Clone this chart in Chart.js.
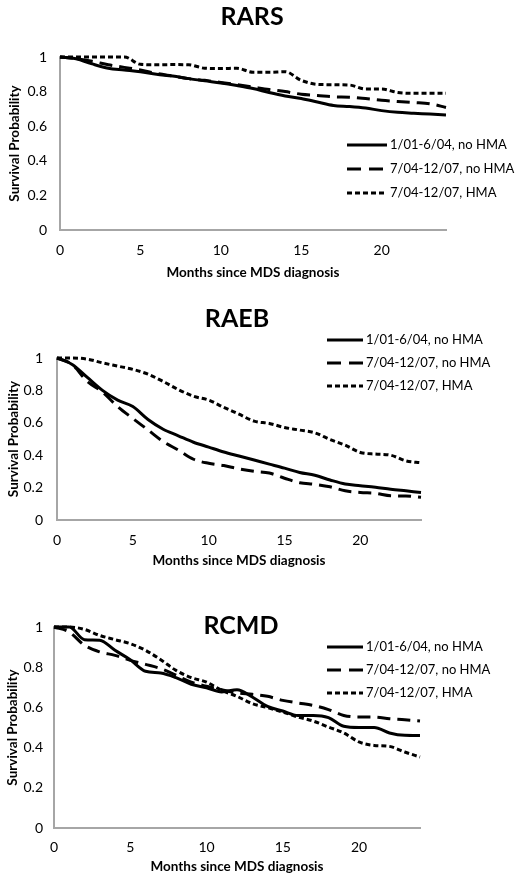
<!DOCTYPE html>
<html>
<head>
<meta charset="utf-8">
<script src="https://cdn.jsdelivr.net/npm/chart.js@4.4.0/dist/chart.umd.min.js"></script>
<style>
  html, body { margin: 0; padding: 0; background: #fff; }
  #wrap { position: relative; width: 524px; height: 882px; }
  canvas { position: absolute; left: 0; }
</style>
</head>
<body>
<div id="wrap">
  <canvas id="rarsChart" width="524" height="290" style="top:0px"></canvas>
  <canvas id="raebChart" width="524" height="290" style="top:290px"></canvas>
  <canvas id="rcmdChart" width="524" height="302" style="top:580px"></canvas>
</div>
<script>
var months = [0, 1, 2, 3, 4, 5, 6, 7, 8, 9, 10, 11, 12, 13, 14, 15, 16, 17, 18, 19, 20, 21, 22, 23, 24];
var seriesNames = ['1/01-6/04, no HMA', '7/04-12/07, no HMA', '7/04-12/07, HMA'];
var yTicks = [0, 0.2, 0.4, 0.6, 0.8, 1];
var xTicks = [0, 5, 10, 15, 20];

// RARS
var rarsEarly = [1, 0.99, 0.96, 0.935, 0.925, 0.915, 0.9, 0.89, 0.875, 0.862, 0.85, 0.835, 0.818, 0.795, 0.775, 0.76, 0.74, 0.72, 0.714, 0.705, 0.69, 0.68, 0.675, 0.67, 0.665];
var rarsLateNoHma = [1, 0.99, 0.975, 0.955, 0.94, 0.925, 0.905, 0.89, 0.875, 0.865, 0.853, 0.84, 0.826, 0.812, 0.8, 0.785, 0.778, 0.77, 0.768, 0.76, 0.75, 0.743, 0.737, 0.73, 0.708];
var rarsLateHma = [1, 1, 1, 1, 1, 0.958, 0.955, 0.956, 0.955, 0.935, 0.933, 0.935, 0.912, 0.912, 0.915, 0.865, 0.842, 0.84, 0.838, 0.815, 0.815, 0.795, 0.79, 0.79, 0.79];

// RAEB
var raebEarly = [1, 0.96, 0.88, 0.8, 0.74, 0.7, 0.62, 0.56, 0.52, 0.48, 0.45, 0.42, 0.395, 0.37, 0.345, 0.32, 0.293, 0.276, 0.247, 0.222, 0.212, 0.202, 0.19, 0.18, 0.17];
var raebLateNoHma = [1, 0.96, 0.855, 0.79, 0.7, 0.627, 0.556, 0.484, 0.432, 0.375, 0.35, 0.336, 0.315, 0.3, 0.29, 0.258, 0.23, 0.22, 0.205, 0.18, 0.17, 0.165, 0.15, 0.148, 0.14];
var raebLateHma = [1, 1, 0.993, 0.97, 0.95, 0.93, 0.9, 0.855, 0.805, 0.764, 0.74, 0.695, 0.653, 0.61, 0.596, 0.571, 0.555, 0.538, 0.497, 0.462, 0.417, 0.407, 0.4, 0.365, 0.353];

// RCMD
var rcmdEarly = [1, 1, 0.937, 0.934, 0.884, 0.837, 0.78, 0.771, 0.748, 0.715, 0.698, 0.677, 0.688, 0.652, 0.605, 0.582, 0.56, 0.56, 0.549, 0.506, 0.5, 0.5, 0.473, 0.461, 0.46];
var rcmdLateNoHma = [1, 0.975, 0.909, 0.876, 0.859, 0.834, 0.814, 0.793, 0.76, 0.726, 0.705, 0.688, 0.672, 0.665, 0.655, 0.635, 0.622, 0.61, 0.589, 0.56, 0.552, 0.552, 0.544, 0.539, 0.532];
var rcmdLateHma = [1, 1, 0.988, 0.958, 0.937, 0.917, 0.884, 0.837, 0.784, 0.748, 0.726, 0.685, 0.655, 0.619, 0.599, 0.577, 0.552, 0.532, 0.502, 0.473, 0.428, 0.411, 0.406, 0.378, 0.353];

Chart.defaults.font.family = 'Lato, "Open Sans", sans-serif';
Chart.defaults.color = '#000';

var dashes = [[], [13, 7], [5, 3]];

// title + legend drawn by hand so they can sit where the original has them
var panelText = {
  id: 'panelText',
  afterDraw: function (chart, args, opts) {
    var ctx = chart.ctx;
    ctx.save();
    ctx.fillStyle = '#000';
    ctx.strokeStyle = '#000';
    ctx.font = 'bold 25px Lato';
    ctx.textAlign = 'center';
    ctx.textBaseline = 'middle';
    ctx.fillText(opts.title, opts.titleX, opts.titleY);
    ctx.font = '13px Lato';
    ctx.textAlign = 'left';
    chart.data.datasets.forEach(function (ds, i) {
      var y = opts.legendY + i * opts.legendStep;
      ctx.beginPath();
      ctx.setLineDash(opts.legendDash[i]);
      ctx.lineWidth = ds.borderWidth;
      ctx.moveTo(opts.legendX, y);
      ctx.lineTo(opts.legendX + opts.sampleLen, y);
      ctx.stroke();
      ctx.setLineDash([]);
      ctx.fillText(ds.label, opts.legendX + opts.sampleLen + 3, y);
    });
    ctx.restore();
  }
};

function toPoints(vals) {
  return months.map(function (m, i) { return { x: m, y: vals[i] }; });
}

function makeChart(id, title, series, lay) {
  var ctx = document.getElementById(id).getContext('2d');
  var datasets = series.map(function (vals, i) {
    return {
      label: seriesNames[i],
      data: toPoints(vals),
      borderColor: '#000',
      borderWidth: 3,
      borderDash: dashes[i],
      pointRadius: 0,
      cubicInterpolationMode: 'monotone',
      fill: false,
      clip: 6
    };
  });
  return new Chart(ctx, {
    type: 'line',
    data: { datasets: datasets },
    options: {
      responsive: false,
      animation: false,
      layout: { padding: { top: lay.top, right: lay.right, left: 0, bottom: 0 } },
      plugins: {
        legend: { display: false },
        tooltip: { enabled: false },
        panelText: {
          title: title, titleX: lay.titleX, titleY: lay.titleY,
          legendX: lay.legendX, legendY: lay.legendY, legendStep: lay.legendStep,
          sampleLen: lay.sampleLen, legendDash: [[], [14, 8], [5, 3]]
        }
      },
      scales: {
        x: {
          type: 'linear',
          min: 0, max: 24,
          afterFit: function (s) { s.height = lay.xHeight; },
          afterBuildTicks: function (s) { s.ticks = xTicks.map(function (v) { return { value: v }; }); },
          grid: { display: false, drawTicks: false },
          border: { display: true, color: '#a6a6a6', width: 2 },
          ticks: { padding: lay.xTickPad, font: { size: 14 }, color: '#000', maxRotation: 0 },
          title: { display: true, text: 'Months since MDS diagnosis', font: { size: 13.5, weight: 'bold' }, color: '#000', padding: { top: 0, bottom: lay.xTitlePad } }
        },
        y: {
          min: 0, max: 1,
          afterFit: function (s) { s.width = lay.left; },
          afterBuildTicks: function (s) { s.ticks = yTicks.map(function (v) { return { value: v }; }); },
          grid: { display: false, drawTicks: false },
          border: { display: true, color: '#a6a6a6', width: 2 },
          ticks: {
            padding: lay.yTickPad, font: { size: 14 }, color: '#000',
            callback: function (v) { return String(Math.round(v * 10) / 10); }
          },
          title: { display: true, text: 'Survival Probability', font: { size: 13.5, weight: 'bold' }, color: '#000', padding: { top: lay.yTitlePad, bottom: 0 } }
        }
      }
    },
    plugins: [panelText]
  });
}

makeChart('rarsChart', 'RARS', [rarsEarly, rarsLateNoHma, rarsLateHma], {
  top: 57, right: 78, left: 60, xHeight: 60, xTickPad: 12, xTitlePad: 9, yTickPad: 13, yTitlePad: 7,
  titleX: 252, titleY: 17, legendX: 347, legendY: 145, legendStep: 24, sampleLen: 40
});
makeChart('raebChart', 'RAEB', [raebEarly, raebLateNoHma, raebLateHma], {
  top: 68, right: 103, left: 57, xHeight: 60, xTickPad: 12, xTitlePad: 11, yTickPad: 14, yTitlePad: 6,
  titleX: 237, titleY: 29, legendX: 327, legendY: 50, legendStep: 23, sampleLen: 36
});
makeChart('rcmdChart', 'RCMD', [rcmdEarly, rcmdLateNoHma, rcmdLateHma], {
  top: 47, right: 104, left: 54, xHeight: 54, xTickPad: 11, xTitlePad: 7, yTickPad: 11, yTitlePad: 5,
  titleX: 241, titleY: 46, legendX: 327, legendY: 67, legendStep: 23, sampleLen: 36
});
</script>
</body>
</html>
